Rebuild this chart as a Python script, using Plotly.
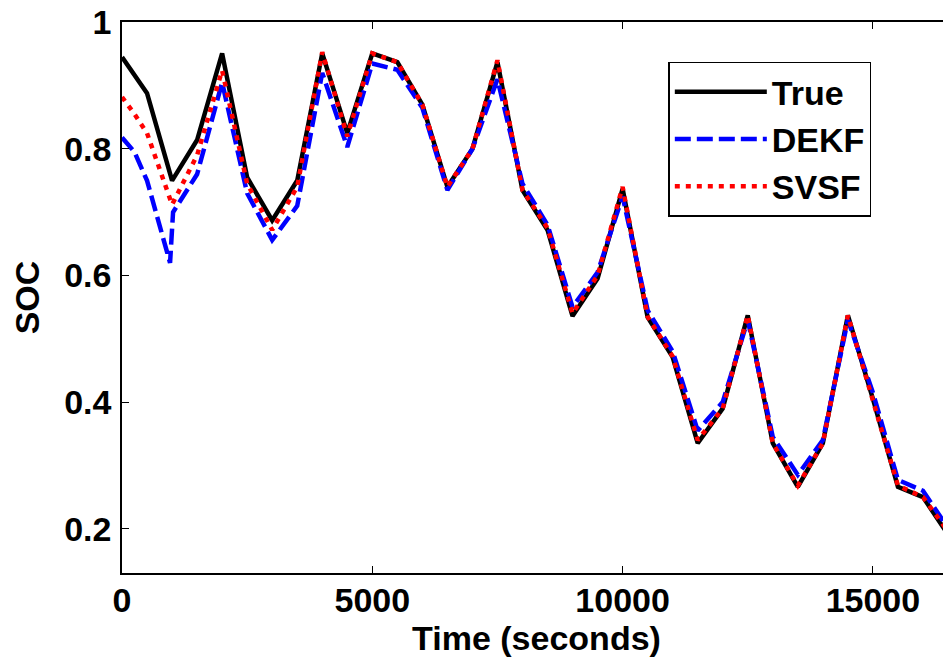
import plotly.graph_objects as go

# Time grids (seconds)
t_true = [0, 250, 500, 1000, 1500, 2000, 2500, 3000, 3500, 4000, 4500, 5000, 5500, 6000,
          6500, 7000, 7500, 8000, 8500, 9000, 9500, 10000, 10500, 11000, 11500, 12000,
          12500, 13000, 13500, 14000, 14500, 15000, 15500, 16000, 16550]
soc_true = [0.945, 0.916, 0.888, 0.750, 0.814, 0.951, 0.755, 0.687, 0.750, 0.951, 0.825,
            0.951, 0.937, 0.870, 0.740, 0.800, 0.937, 0.735, 0.672, 0.536, 0.595, 0.737,
            0.534, 0.471, 0.335, 0.390, 0.537, 0.335, 0.266, 0.335, 0.537, 0.405, 0.266,
            0.250, 0.185]

t_dekf = [0, 250, 500, 960, 1020, 1500, 2000, 2500, 3000, 3500, 4000, 4500, 5000, 5500,
          6000, 6500, 7000, 7500, 8000, 8500, 9000, 9500, 10000, 10500, 11000, 11500,
          12000, 12500, 13000, 13500, 14000, 14500, 15000, 15500, 16000, 16550]
soc_dekf = [0.818, 0.795, 0.750, 0.620, 0.700, 0.760, 0.905, 0.730, 0.656, 0.710, 0.920,
            0.803, 0.935, 0.925, 0.865, 0.735, 0.800, 0.910, 0.745, 0.680, 0.550, 0.605,
            0.725, 0.545, 0.480, 0.355, 0.400, 0.530, 0.345, 0.285, 0.340, 0.530, 0.415,
            0.277, 0.260, 0.195]

t_svsf = [0, 250, 500, 1000, 1500, 2000, 2500, 3000, 3500, 4000, 4500, 5000, 5500, 6000,
          6500, 7000, 7500, 8000, 8500, 9000, 9500, 10000, 10500, 11000, 11500, 12000,
          12500, 13000, 13500, 14000, 14500, 15000, 15500, 16000, 16550]
soc_svsf = [0.882, 0.855, 0.825, 0.712, 0.790, 0.924, 0.745, 0.672, 0.740, 0.953, 0.820,
            0.951, 0.937, 0.870, 0.740, 0.800, 0.940, 0.735, 0.675, 0.540, 0.600, 0.740,
            0.535, 0.472, 0.340, 0.390, 0.537, 0.335, 0.268, 0.335, 0.537, 0.405, 0.268,
            0.250, 0.190]

x_ticks = [0, 5000, 10000, 15000]
y_ticks = [0.2, 0.4, 0.6, 0.8, 1.0]
y_tick_text = ["0.2", "0.4", "0.6", "0.8", "1"]

FONT = "Liberation Sans, Arial, sans-serif"

fig = go.Figure()
fig.add_trace(go.Scatter(x=t_true, y=soc_true, mode="lines", name="True",
                         line=dict(color="black", width=4.5)))
fig.add_trace(go.Scatter(x=t_dekf, y=soc_dekf, mode="lines", name="DEKF",
                         line=dict(color="#0000ff", width=4.5, dash="16px,6px")))
fig.add_trace(go.Scatter(x=t_svsf, y=soc_svsf, mode="lines", name="SVSF",
                         line=dict(color="#ff0000", width=4.5, dash="5px,6px")))

axis_common = dict(
    showline=True, linecolor="black", linewidth=1.5, mirror="ticks",
    ticks="inside", ticklen=7, tickwidth=1.2, tickcolor="black",
    showgrid=False, zeroline=False, ticklabeloverflow="allow",
    tickfont=dict(family=FONT, size=34, color="black", weight="bold"),
)

fig.update_xaxes(range=[0, 16560], tickvals=x_ticks, ticktext=[str(v) for v in x_ticks],
                 ticklabelstandoff=-4,
                 title=dict(text="Time (seconds)", standoff=0,
                            font=dict(family=FONT, size=34, color="black", weight="bold")),
                 **axis_common)
fig.update_yaxes(range=[0.13, 1.0005], tickvals=y_ticks, ticktext=y_tick_text,
                 ticklabelstandoff=2,
                 title=dict(text="SOC", standoff=18,
                            font=dict(family=FONT, size=34, color="black", weight="bold")),
                 **axis_common)

fig.update_layout(
    width=943, height=656,
    margin=dict(l=114, r=0, t=14, b=91, autoexpand=False),
    paper_bgcolor="white", plot_bgcolor="white",
    showlegend=True,
    legend=dict(x=0.659, y=0.928, xanchor="left", yanchor="top",
                bgcolor="white", bordercolor="black", borderwidth=1.5,
                font=dict(family=FONT, size=34, color="black", weight="bold"),
                itemwidth=92, tracegroupgap=0),
)

fig.write_html("out.html")
